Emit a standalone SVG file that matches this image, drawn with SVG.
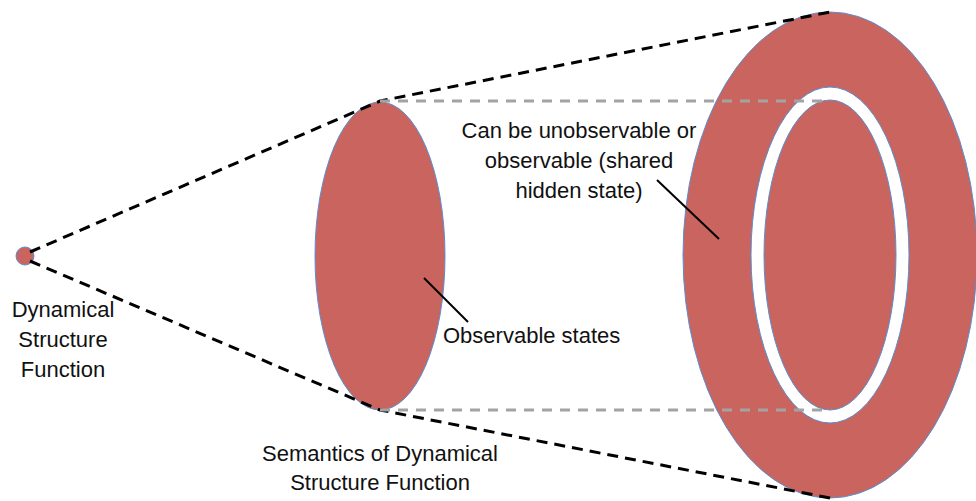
<svg xmlns="http://www.w3.org/2000/svg" width="976" height="501" viewBox="0 0 976 501">
<style>
.shape{fill:#C9645E;stroke:#5B8ED0;stroke-width:1}
.hole{fill:#FFFFFF;stroke:#5B8ED0;stroke-width:1}
.dash{fill:none;stroke:#000;stroke-width:3;stroke-dasharray:11 7}
.gray{fill:none;stroke:#A3A3A3;stroke-width:3;stroke-dasharray:10 8}
.ptr{stroke:#000;stroke-width:2}
text{font-family:"Liberation Sans",Arial,sans-serif;font-size:22px;fill:#111}
</style>
<rect width="976" height="501" fill="#fff"/>
<g id="ring">
<ellipse class="shape" cx="830" cy="255" rx="147" ry="243"/>
<ellipse class="hole" cx="830" cy="255" rx="79" ry="168"/>
<ellipse class="shape" cx="830" cy="255" rx="66" ry="155"/>
</g>
<g id="semantics">
<ellipse class="shape" cx="380" cy="256" rx="65" ry="154"/>
</g>
<g id="dsf">
<circle class="shape" cx="25" cy="256" r="9"/>
</g>
<g id="connectors">
<path class="dash" d="M30 252 L380 101 L830 12"/>
<path class="dash" d="M30 261 L380 410 L830 498"/>
<path class="gray" d="M380 101 H830"/>
<path class="gray" d="M380 410 H830"/>
<line class="ptr" x1="424" y1="278" x2="468" y2="322"/>
<line class="ptr" x1="657" y1="180" x2="719" y2="239"/>
</g>
<g id="label-dsf">
<text x="63" y="317" text-anchor="middle">Dynamical</text>
<text x="63" y="347" text-anchor="middle">Structure</text>
<text x="63" y="377" text-anchor="middle">Function</text>
</g>
<g id="label-observable">
<text x="443" y="343">Observable states</text>
</g>
<g id="label-hidden">
<text x="579" y="138" text-anchor="middle">Can be unobservable or</text>
<text x="579" y="168" text-anchor="middle">observable (shared</text>
<text x="579" y="198" text-anchor="middle">hidden state)</text>
</g>
<g id="label-semantics">
<text x="380" y="461" text-anchor="middle">Semantics of Dynamical</text>
<text x="380" y="490" text-anchor="middle">Structure Function</text>
</g>
</svg>
